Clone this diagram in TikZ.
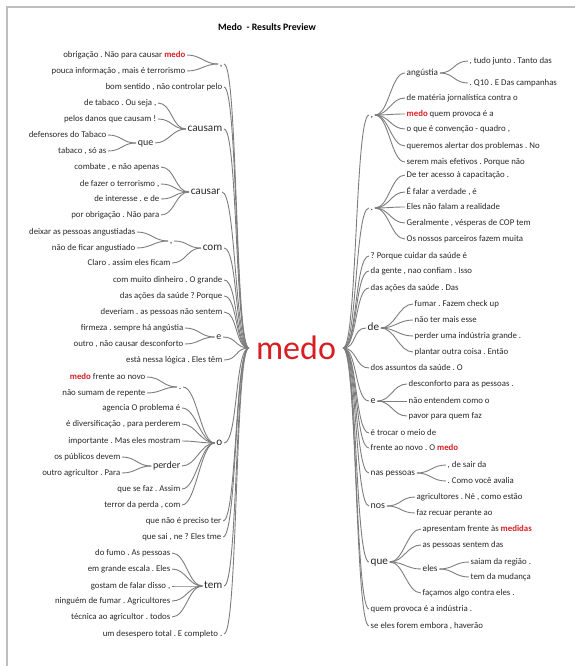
\documentclass[tikz,border=0pt]{standalone}
\usepackage{fontspec}
\setmainfont{Carlito}
\usepackage{xcolor}
\definecolor{wordred}{RGB}{215,30,35}
\definecolor{txtgray}{RGB}{40,40,40}
\definecolor{linegray}{RGB}{125,125,125}
\definecolor{framegray}{RGB}{190,190,190}
\newcommand{\redword}[1]{\textcolor{wordred}{\textbf{#1}}}
\frenchspacing

\begin{document}
\begin{tikzpicture}[x=1pt,y=1pt,
  leaf/.style={font=\fontsize{8.8}{10}\selectfont, text=txtgray, inner xsep=1.5pt, inner ysep=1pt, text height=1.5ex, text depth=.4ex},
  word/.style={font=\fontsize{10}{12}\selectfont, text=txtgray, inner xsep=1.5pt, inner ysep=1pt, text height=1.5ex, text depth=.4ex},
  smallword/.style={word, font=\fontsize{9.2}{11}\selectfont},
  bigword/.style={word, font=\fontsize{11.2}{13}\selectfont},
  branch/.style={draw=linegray, line width=0.9pt, out=0, in=180, distance=14pt}]
		\useasboundingbox (0,0) rectangle (575,-666);
		\draw[framegray, line width=1.6pt] (7,-666) -- (7,-7) -- (575,-7);
		\node[font=\bfseries\fontsize{9.8}{12}\selectfont] (title) at (267,-27) {Medo\ \ - Results Preview};
		\node[font=\fontsize{34}{36}\selectfont, text=wordred, inner xsep=7pt, inner ysep=0pt] (medo) at (296,-348) {medo};
		% left side
		\node[word, anchor=east] (lA) at (224,-64) {,};
		\node[leaf, anchor=east] (lA1) at (187,-55) {obrigação . Não para causar \redword{medo}};
		\node[leaf, anchor=east] (lA2) at (187,-71) {pouca informação , mais é terrorismo};
		\node[leaf, anchor=east] (lB) at (224,-87) {bom sentido , não controlar pelo};
		\node[bigword, anchor=east] (lC) at (224,-129) {causam};
		\node[leaf, anchor=east] (lC1) at (158,-103) {de tabaco . Ou seja ,};
		\node[leaf, anchor=east] (lC2) at (158,-119) {pelos danos que causam !};
		\node[word, anchor=east] (lC3) at (155,-143) {que};
		\node[leaf, anchor=east] (lC31) at (108,-135) {defensores do Tabaco};
		\node[leaf, anchor=east] (lC32) at (108,-151) {tabaco , só as};
		\node[bigword, anchor=east] (lD) at (222,-192) {causar};
		\node[leaf, anchor=east] (lD1) at (161,-167) {combate , e não apenas};
		\node[leaf, anchor=east] (lD2) at (161,-184) {de fazer o terrorismo ,};
		\node[leaf, anchor=east] (lD3) at (161,-199) {de interesse . e de};
		\node[leaf, anchor=east] (lD4) at (161,-215) {por obrigação . Não para};
		\node[bigword, anchor=east] (lE) at (224,-248) {com};
		\node[word, anchor=east] (lE1) at (174,-241) {,};
		\node[leaf, anchor=east] (lE11) at (137,-232) {deixar as pessoas angustiadas};
		\node[leaf, anchor=east] (lE12) at (137,-248) {não de ficar angustiado};
		\node[leaf, anchor=east] (lE2) at (172,-263) {Claro . assim eles ficam};
		\node[leaf, anchor=east] (lF) at (224,-280) {com muito dinheiro . O grande};
		\node[leaf, anchor=east] (lG) at (224,-296) {das ações da saúde ? Porque};
		\node[leaf, anchor=east] (lH) at (224,-312) {deveriam . as pessoas não sentem};
		\node[word, anchor=east] (lI) at (223,-337) {e};
		\node[leaf, anchor=east] (lI1) at (185,-328) {firmeza . sempre há angústia};
		\node[leaf, anchor=east] (lI2) at (185,-344) {outro , não causar desconforto};
		\node[leaf, anchor=east] (lJ) at (224,-360) {está nessa lógica . Eles têm};
		\node[bigword, anchor=east] (lK) at (224,-443) {o};
		\node[word, anchor=east] (lK1) at (183,-387) {.};
		\node[leaf, anchor=east] (lK11) at (147,-377) {\redword{medo} frente ao novo};
		\node[leaf, anchor=east] (lK12) at (147,-393) {não sumam de repente};
		\node[leaf, anchor=east] (lK2) at (182,-408) {agencia O problema é};
		\node[leaf, anchor=east] (lK3) at (182,-424) {é diversificação , para perderem};
		\node[leaf, anchor=east] (lK4) at (182,-441) {importante . Mas eles mostram};
		\node[word, anchor=east] (lK5) at (182,-466) {perder};
		\node[leaf, anchor=east] (lK51) at (122,-457) {os públicos devem};
		\node[leaf, anchor=east] (lK52) at (122,-473) {outro agricultor . Para};
		\node[leaf, anchor=east] (lK6) at (182,-489) {que se faz . Assim};
		\node[leaf, anchor=east] (lK7) at (182,-505) {terror da perda , com};
		\node[leaf, anchor=east] (lL) at (223,-521) {que não é preciso ter};
		\node[leaf, anchor=east] (lM) at (223,-537) {que sai , ne ? Eles tme};
		\node[bigword, anchor=east] (lN) at (224,-586) {tem};
		\node[leaf, anchor=east] (lN1) at (172,-553) {do fumo . As pessoas};
		\node[leaf, anchor=east] (lN2) at (172,-569) {em grande escala . Eles};
		\node[leaf, anchor=east] (lN3) at (172,-586) {gostam de falar disso ,};
		\node[leaf, anchor=east] (lN4) at (172,-601) {ninguém de fumar . Agricultores};
		\node[leaf, anchor=east] (lN5) at (172,-617) {técnica ao agricultor . todos};
		\node[leaf, anchor=east] (lO) at (224,-634) {um desespero total . E completo .};
		% right side
		\node[word, anchor=west] (rA) at (369,-115) {,};
		\node[smallword, anchor=west] (rA1) at (405,-73) {angústia};
		\node[leaf, anchor=west] (rA11) at (468,-61) {, tudo junto . Tanto das};
		\node[leaf, anchor=west] (rA12) at (468,-83) {. Q10 . E Das campanhas};
		\node[leaf, anchor=west] (rA2) at (405,-98) {de matéria jornalística contra o};
		\node[leaf, anchor=west] (rA3) at (405,-114) {\redword{medo} quem provoca é a};
		\node[leaf, anchor=west] (rA4) at (405,-129) {o que é convenção - quadro ,};
		\node[leaf, anchor=west] (rA5) at (405,-146) {queremos alertar dos problemas . No};
		\node[leaf, anchor=west] (rA6) at (405,-162) {serem mais efetivos . Porque não};
		\node[word, anchor=west] (rB) at (369,-208) {.};
		\node[leaf, anchor=west] (rB1) at (405,-175) {De ter acesso à capacitação .};
		\node[leaf, anchor=west] (rB2) at (405,-192) {É falar a verdade , é};
		\node[leaf, anchor=west] (rB3) at (405,-207) {Eles não falam a realidade};
		\node[leaf, anchor=west] (rB4) at (405,-223) {Geralmente , vésperas de COP tem};
		\node[leaf, anchor=west] (rB5) at (405,-239) {Os nossos parceiros fazem muita};
		\node[leaf, anchor=west] (rC) at (369,-256) {? Porque cuidar da saúde é};
		\node[leaf, anchor=west] (rD) at (369,-271) {da gente , nao confiam . Isso};
		\node[leaf, anchor=west] (rE) at (369,-288) {das ações da saúde . Das};
		\node[bigword, anchor=west] (rF) at (366,-328) {de};
		\node[leaf, anchor=west] (rF1) at (413,-304) {fumar . Fazem check up};
		\node[leaf, anchor=west] (rF2) at (413,-320) {não ter mais esse};
		\node[leaf, anchor=west] (rF3) at (413,-336) {perder uma indústria grande .};
		\node[leaf, anchor=west] (rF4) at (413,-352) {plantar outra coisa . Então};
		\node[leaf, anchor=west] (rG) at (369,-368) {dos assuntos da saúde . O};
		\node[word, anchor=west] (rH) at (369,-401) {e};
		\node[leaf, anchor=west] (rH1) at (407,-384) {desconforto para as pessoas .};
		\node[leaf, anchor=west] (rH2) at (407,-401) {não entendem como o};
		\node[leaf, anchor=west] (rH3) at (407,-416) {pavor para quem faz};
		\node[leaf, anchor=west] (rI) at (369,-433) {é trocar o meio de};
		\node[leaf, anchor=west] (rJ) at (369,-448) {frente ao novo . O \redword{medo}};
		\node[smallword, anchor=west] (rK) at (369,-473) {nas pessoas};
		\node[leaf, anchor=west] (rK1) at (446,-465) {, de sair da};
		\node[leaf, anchor=west] (rK2) at (446,-481) {. Como você avalia};
		\node[word, anchor=west] (rL) at (369,-506) {nos};
		\node[leaf, anchor=west] (rL1) at (415,-497) {agricultores . Né , como estão};
		\node[leaf, anchor=west] (rL2) at (415,-513) {faz recuar perante ao};
		\node[bigword, anchor=west] (rM) at (369,-562) {que};
		\node[leaf, anchor=west] (rM1) at (421,-529) {apresentam frente às \redword{medidas}};
		\node[leaf, anchor=west] (rM2) at (421,-545) {as pessoas sentem das};
		\node[smallword, anchor=west] (rM3) at (421,-569) {eles};
		\node[leaf, anchor=west] (rM31) at (469,-562) {saiam da região .};
		\node[leaf, anchor=west] (rM32) at (469,-577) {tem da mudança};
		\node[leaf, anchor=west] (rM4) at (421,-593) {façamos algo contra eles .};
		\node[leaf, anchor=west] (rN) at (369,-609) {quem provoca é a indústria .};
		\node[leaf, anchor=west] (rO) at (369,-626) {se eles forem embora , haverão};
		% left branches
		\draw[branch] (lA.east) to (medo.west);
		\draw[branch] (lB.east) to (medo.west);
		\draw[branch] (lC.east) to (medo.west);
		\draw[branch] (lD.east) to (medo.west);
		\draw[branch] (lE.east) to (medo.west);
		\draw[branch] (lF.east) to (medo.west);
		\draw[branch] (lG.east) to (medo.west);
		\draw[branch] (lH.east) to (medo.west);
		\draw[branch] (lI.east) to (medo.west);
		\draw[branch] (lJ.east) to (medo.west);
		\draw[branch] (lK.east) to (medo.west);
		\draw[branch] (lL.east) to (medo.west);
		\draw[branch] (lM.east) to (medo.west);
		\draw[branch] (lN.east) to (medo.west);
		\draw[branch] (lO.east) to (medo.west);
		\draw[branch] (lA1.east) to (lA.west);
		\draw[branch] (lA2.east) to (lA.west);
		\draw[branch] (lC1.east) to (lC.west);
		\draw[branch] (lC2.east) to (lC.west);
		\draw[branch] (lC3.east) to (lC.west);
		\draw[branch] (lC31.east) to (lC3.west);
		\draw[branch] (lC32.east) to (lC3.west);
		\draw[branch] (lD1.east) to (lD.west);
		\draw[branch] (lD2.east) to (lD.west);
		\draw[branch] (lD3.east) to (lD.west);
		\draw[branch] (lD4.east) to (lD.west);
		\draw[branch] (lE1.east) to (lE.west);
		\draw[branch] (lE2.east) to (lE.west);
		\draw[branch] (lE11.east) to (lE1.west);
		\draw[branch] (lE12.east) to (lE1.west);
		\draw[branch] (lI1.east) to (lI.west);
		\draw[branch] (lI2.east) to (lI.west);
		\draw[branch] (lK1.east) to (lK.west);
		\draw[branch] (lK11.east) to (lK1.west);
		\draw[branch] (lK12.east) to (lK1.west);
		\draw[branch] (lK2.east) to (lK.west);
		\draw[branch] (lK3.east) to (lK.west);
		\draw[branch] (lK4.east) to (lK.west);
		\draw[branch] (lK5.east) to (lK.west);
		\draw[branch] (lK51.east) to (lK5.west);
		\draw[branch] (lK52.east) to (lK5.west);
		\draw[branch] (lK6.east) to (lK.west);
		\draw[branch] (lK7.east) to (lK.west);
		\draw[branch] (lN1.east) to (lN.west);
		\draw[branch] (lN2.east) to (lN.west);
		\draw[branch] (lN3.east) to (lN.west);
		\draw[branch] (lN4.east) to (lN.west);
		\draw[branch] (lN5.east) to (lN.west);
		% right branches
		\draw[branch] (medo.east) to (rA.west);
		\draw[branch] (medo.east) to (rB.west);
		\draw[branch] (medo.east) to (rC.west);
		\draw[branch] (medo.east) to (rD.west);
		\draw[branch] (medo.east) to (rE.west);
		\draw[branch] (medo.east) to (rF.west);
		\draw[branch] (medo.east) to (rG.west);
		\draw[branch] (medo.east) to (rH.west);
		\draw[branch] (medo.east) to (rI.west);
		\draw[branch] (medo.east) to (rJ.west);
		\draw[branch] (medo.east) to (rK.west);
		\draw[branch] (medo.east) to (rL.west);
		\draw[branch] (medo.east) to (rM.west);
		\draw[branch] (medo.east) to (rN.west);
		\draw[branch] (medo.east) to (rO.west);
		\draw[branch] (rA.east) to (rA1.west);
		\draw[branch] (rA1.east) to (rA11.west);
		\draw[branch] (rA1.east) to (rA12.west);
		\draw[branch] (rA.east) to (rA2.west);
		\draw[branch] (rA.east) to (rA3.west);
		\draw[branch] (rA.east) to (rA4.west);
		\draw[branch] (rA.east) to (rA5.west);
		\draw[branch] (rA.east) to (rA6.west);
		\draw[branch] (rB.east) to (rB1.west);
		\draw[branch] (rB.east) to (rB2.west);
		\draw[branch] (rB.east) to (rB3.west);
		\draw[branch] (rB.east) to (rB4.west);
		\draw[branch] (rB.east) to (rB5.west);
		\draw[branch] (rF.east) to (rF1.west);
		\draw[branch] (rF.east) to (rF2.west);
		\draw[branch] (rF.east) to (rF3.west);
		\draw[branch] (rF.east) to (rF4.west);
		\draw[branch] (rH.east) to (rH1.west);
		\draw[branch] (rH.east) to (rH2.west);
		\draw[branch] (rH.east) to (rH3.west);
		\draw[branch] (rK.east) to (rK1.west);
		\draw[branch] (rK.east) to (rK2.west);
		\draw[branch] (rL.east) to (rL1.west);
		\draw[branch] (rL.east) to (rL2.west);
		\draw[branch] (rM.east) to (rM1.west);
		\draw[branch] (rM.east) to (rM2.west);
		\draw[branch] (rM.east) to (rM3.west);
		\draw[branch] (rM.east) to (rM4.west);
		\draw[branch] (rM3.east) to (rM31.west);
		\draw[branch] (rM3.east) to (rM32.west);
\end{tikzpicture}
\end{document}
